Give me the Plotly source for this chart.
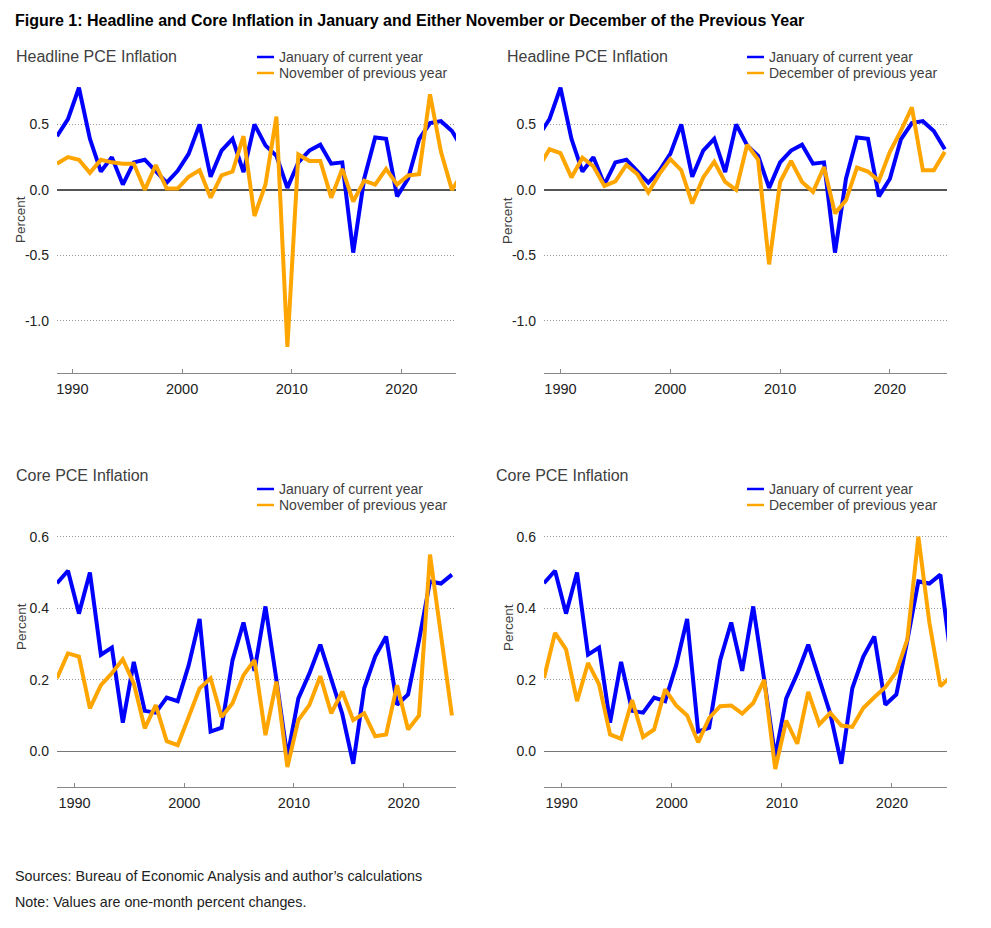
import plotly.graph_objects as go

# one value per year, 1988-2025
years = list(range(1988, 2026))

headline_jan = [0.41, 0.54, 0.78, 0.39, 0.14, 0.25, 0.04, 0.21, 0.23, 0.14,
                0.055, 0.145, 0.275, 0.50, 0.10, 0.30, 0.39, 0.135, 0.50, 0.34,
                0.26, 0.015, 0.21, 0.30, 0.345, 0.20, 0.21, -0.48, 0.085, 0.40,
                0.39, -0.05, 0.085, 0.385, 0.51, 0.525, 0.45, 0.31]
headline_nov = [0.20, 0.25, 0.23, 0.13, 0.23, 0.21, 0.20, 0.20, 0.0, 0.19,
                0.01, 0.01, 0.10, 0.15, -0.06, 0.11, 0.14, 0.41, -0.20, 0.04,
                0.56, -1.20, 0.27, 0.22, 0.22, -0.06, 0.16, -0.09, 0.07, 0.04,
                0.16, 0.04, 0.11, 0.12, 0.73, 0.29, 0.0, 0.13]
headline_dec = [0.17, 0.31, 0.28, 0.095, 0.245, 0.18, 0.03, 0.065, 0.19, 0.12,
                -0.02, 0.12, 0.235, 0.15, -0.105, 0.095, 0.215, 0.06, 0.0, 0.345,
                0.23, -0.57, 0.06, 0.22, 0.06, -0.015, 0.175, -0.18, -0.08, 0.17,
                0.14, 0.07, 0.29, 0.45, 0.63, 0.15, 0.15, 0.29]
core_jan = [0.47, 0.505, 0.385, 0.50, 0.27, 0.29, 0.08, 0.25, 0.113, 0.108,
            0.15, 0.14, 0.24, 0.37, 0.055, 0.066, 0.255, 0.36, 0.225, 0.405,
            0.20, -0.016, 0.148, 0.217, 0.298, 0.20, 0.105, -0.035, 0.176, 0.265,
            0.321, 0.13, 0.159, 0.31, 0.475, 0.469, 0.494, 0.25]
# November series stops at 2024 in the chart
core_nov = [0.204, 0.274, 0.265, 0.12, 0.185, 0.218, 0.257, 0.19, 0.064, 0.129,
            0.028, 0.017, 0.096, 0.176, 0.204, 0.096, 0.134, 0.213, 0.255, 0.045,
            0.195, -0.044, 0.087, 0.129, 0.21, 0.106, 0.167, 0.087, 0.106, 0.042,
            0.047, 0.185, 0.061, 0.10, 0.55, 0.32, 0.10]
core_dec = [0.205, 0.331, 0.285, 0.14, 0.247, 0.187, 0.047, 0.035, 0.143, 0.04,
            0.061, 0.173, 0.128, 0.10, 0.025, 0.093, 0.126, 0.128, 0.105, 0.135,
            0.20, -0.05, 0.086, 0.021, 0.166, 0.075, 0.107, 0.072, 0.068, 0.121,
            0.151, 0.179, 0.222, 0.313, 0.60, 0.36, 0.182, 0.21]

decades = [1990, 2000, 2010, 2020]
decade_labels = ["1990", "2000", "2010", "2020"]
headline_ticks = [-1.0, -0.5, 0.0, 0.5]
core_ticks = [0.0, 0.2, 0.4, 0.6]

# page body keeps an 8px margin, so the figure is a bit smaller and everything is shifted
OFF = 8
W, H = 991 - 2 * OFF, 928 - 2 * OFF
BLUE = "#0000FF"
ORANGE = "#FFA500"
FONT = "Liberation Sans, Arial, sans-serif"
GREY_TXT = "#404040"


def fx(p):
    return (p - OFF) / W


def fy(p):
    return 1 - (p - OFF) / H


# suffix, left, right, top, bottom, x range, tick shift, y range, y ticks, zero colour/width,
# title, second legend label, jan series, other series, title x, legend x
panels = [
    ("", 57, 456, 59, 373, [1988, 2024.37], -0.6, [-1.4, 1.0], headline_ticks, ("#555555", 1.8),
     "Headline PCE Inflation", "November of previous year", headline_jan, headline_nov, 14, 257),
    ("2", 544, 947, 59, 373, [1988.5, 2025.2], 0.0, [-1.4, 1.0], headline_ticks, ("#555555", 1.5),
     "Headline PCE Inflation", "December of previous year", headline_jan, headline_dec, 505, 747),
    ("3", 57, 456, 501, 787, [1988, 2024.37], -0.4, [-0.1, 0.7], core_ticks, ("#777777", 1.2),
     "Core PCE Inflation", "November of previous year", core_jan[:-1], core_nov, 14, 257),
    ("4", 544, 947, 501, 787, [1988, 2024.6], -0.4, [-0.1, 0.7], core_ticks, ("#777777", 1.2),
     "Core PCE Inflation", "December of previous year", core_jan, core_dec, 494, 747),
]

fig = go.Figure()
shapes = []
annotations = []
layout = {}

for (sfx, left, right, top, bottom, xr, shift, yr, yt, zl,
     title, label2, jan, other, title_x, leg_x) in panels:
    xa = "x" + sfx
    ya = "y" + sfx
    fig.add_trace(go.Scatter(x=years[:len(jan)], y=jan, mode="lines", xaxis=xa, yaxis=ya,
                             line=dict(color=BLUE, width=4), showlegend=False,
                             name="January of current year"))
    fig.add_trace(go.Scatter(x=years[:len(other)], y=other, mode="lines", xaxis=xa, yaxis=ya,
                             line=dict(color=ORANGE, width=4), showlegend=False,
                             name=label2))

    layout["xaxis" + sfx] = dict(
        domain=[fx(left), fx(right)], range=xr, anchor=ya,
        tickvals=[d + shift for d in decades], ticktext=decade_labels,
        showgrid=False, zeroline=False, showline=True, linecolor="#888888", linewidth=1,
        ticks="inside", ticklen=4, tickcolor="#888888", ticklabelstandoff=3,
        tickfont=dict(size=14.5, color="#222222"))
    layout["yaxis" + sfx] = dict(
        domain=[fy(bottom), fy(top)], range=yr, anchor=xa,
        tickvals=yt, ticktext=["%.1f" % v for v in yt],
        showgrid=True, gridcolor="#999999", gridwidth=1, griddash="1px,2px",
        zeroline=True, zerolinecolor=zl[0], zerolinewidth=zl[1],
        showline=False, ticks="", ticklabelstandoff=7,
        tickfont=dict(size=14, color="#222222"))

    # panel title
    row_y = top - 2 if top < 100 else top - 26
    annotations.append(dict(x=fx(title_x), y=fy(row_y), xref="paper", yref="paper",
                            text=title, showarrow=False, xanchor="left", yanchor="middle",
                            font=dict(size=16, color=GREY_TXT)))
    # legend
    leg_y = row_y if top < 100 else row_y + 14
    for i, (lab, col) in enumerate([("January of current year", BLUE), (label2, ORANGE)]):
        yy = leg_y + 16 * i
        shapes.append(dict(type="line", xref="paper", yref="paper",
                           x0=fx(leg_x), x1=fx(leg_x + 17), y0=fy(yy), y1=fy(yy),
                           line=dict(color=col, width=2.5)))
        annotations.append(dict(x=fx(leg_x + 20), y=fy(yy), xref="paper", yref="paper",
                                text=lab, showarrow=False, xanchor="left", yanchor="middle",
                                font=dict(size=14, color=GREY_TXT)))
    # y axis label
    annotations.append(dict(x=fx(left - 36), y=fy(220 if top < 100 else 627),
                            xref="paper", yref="paper", text="Percent", textangle=-90,
                            showarrow=False, xanchor="center", yanchor="middle",
                            font=dict(size=13.5, color=GREY_TXT)))

annotations.append(dict(x=fx(13), y=fy(20), xref="paper", yref="paper",
                        text="<b>Figure 1: Headline and Core Inflation in January and Either November or December of the Previous Year</b>",
                        showarrow=False, xanchor="left", yanchor="middle",
                        font=dict(size=16, color="#000000")))
annotations.append(dict(x=fx(13), y=fy(876), xref="paper", yref="paper",
                        text="Sources: Bureau of Economic Analysis and author\u2019s calculations",
                        showarrow=False, xanchor="left", yanchor="middle",
                        font=dict(size=14.3, color="#222222")))
annotations.append(dict(x=fx(13), y=fy(902), xref="paper", yref="paper",
                        text="Note: Values are one-month percent changes.",
                        showarrow=False, xanchor="left", yanchor="middle",
                        font=dict(size=14.3, color="#222222")))

fig.update_layout(
    width=W, height=H,
    margin=dict(l=0, r=0, t=0, b=0),
    paper_bgcolor="white", plot_bgcolor="white",
    font=dict(family=FONT),
    shapes=shapes, annotations=annotations,
    **layout)

fig.write_html("out.html")
